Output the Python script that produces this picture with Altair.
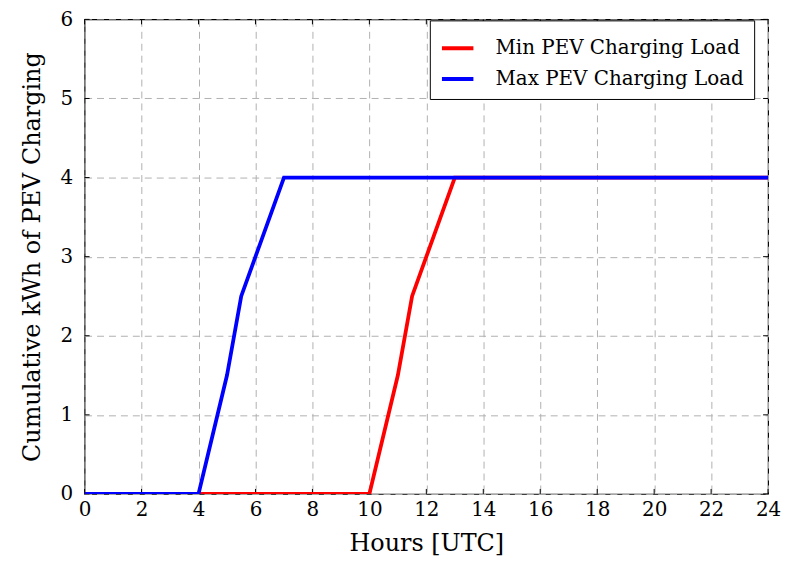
import altair as alt
import pandas as pd

min_hours = [0, 10, 11, 11.5, 12, 13, 24]
min_vals = [0, 0, 1.5, 2.5, 3, 4, 4]
max_hours = [0, 4, 5, 5.5, 6, 7, 24]
max_vals = [0, 0, 1.5, 2.5, 3, 4, 4]
series_names = ["Min PEV Charging Load", "Max PEV Charging Load"]
colors = ["#ff0000", "#0000ff"]
x_ticks = list(range(0, 25, 2))
y_ticks = list(range(0, 7))

rows = []
for i, (h, v) in enumerate(zip(min_hours, min_vals)):
    rows.append({"hour": h, "kwh": v, "series": series_names[0], "order": i})
for i, (h, v) in enumerate(zip(max_hours, max_vals)):
    rows.append({"hour": h, "kwh": v, "series": series_names[1], "order": i})
df = pd.DataFrame(rows)

FONT = "DejaVu Serif"
xs = alt.Scale(domain=[0, 24], nice=False)
ys = alt.Scale(domain=[0, 6], nice=False)

W, H = 687, 477

base = alt.Chart(df).mark_line(strokeWidth=3.8, clip=True).encode(
    x=alt.X("hour:Q", scale=xs, title="Hours [UTC]",
            axis=alt.Axis(values=x_ticks, grid=True, gridDash=[7, 5], gridColor="#b0b0b0",
                          gridWidth=1, ticks=False, domain=False, labelFont=FONT,
                          labelFontSize=20, labelColor="black", titleFont=FONT,
                          titleFontSize=24, titleFontWeight="normal", titleColor="black",
                          labelPadding=6, titlePadding=12, labelFlush=False, format="d")),
    y=alt.Y("kwh:Q", scale=ys, title="Cumulative kWh of PEV Charging",
            axis=alt.Axis(values=y_ticks, grid=True, gridDash=[7, 5], gridColor="#b0b0b0",
                          gridWidth=1, ticks=False, domain=False, labelFont=FONT,
                          labelFontSize=20, labelColor="black", titleFont=FONT,
                          titleFontSize=24, titleFontWeight="normal", titleColor="black",
                          labelPadding=12, titlePadding=16, labelFlush=False, format="d")),
    color=alt.Color("series:N", scale=alt.Scale(domain=series_names, range=colors),
                    legend=alt.Legend(title=None, orient="none", legendX=347, legendY=1,
                                      labelFont=FONT, labelFontSize=20, labelColor="black",
                                      symbolType="stroke", symbolStrokeWidth=4, symbolSize=1000,
                                      strokeColor="black", fillColor="white", padding=10,
                                      rowPadding=3, labelLimit=400, labelOffset=20)),
    order="order:Q",
)

xt = pd.DataFrame({"t": x_ticks})
yt = pd.DataFrame({"t": y_ticks})
tick_bottom = alt.Chart(xt).mark_rule(color="black", strokeWidth=1).encode(
    x=alt.X("t:Q", scale=xs), y=alt.value(H), y2=alt.value(H - 5))
tick_top = alt.Chart(xt).mark_rule(color="black", strokeWidth=1).encode(
    x=alt.X("t:Q", scale=xs), y=alt.value(0), y2=alt.value(5))
tick_left = alt.Chart(yt).mark_rule(color="black", strokeWidth=1).encode(
    y=alt.Y("t:Q", scale=ys), x=alt.value(0), x2=alt.value(5))
tick_right = alt.Chart(yt).mark_rule(color="black", strokeWidth=1).encode(
    y=alt.Y("t:Q", scale=ys), x=alt.value(W), x2=alt.value(W - 5))

chart = alt.layer(tick_bottom, tick_top, tick_left, tick_right, base).properties(
    width=W, height=H,
    autosize=alt.AutoSizeParams(type="none"),
    padding={"left": 77, "top": 10, "right": 14, "bottom": 73},
).configure_view(stroke="black", strokeWidth=1.2)

chart.save("out.html", embed_options={"renderer": "svg", "actions": False})
